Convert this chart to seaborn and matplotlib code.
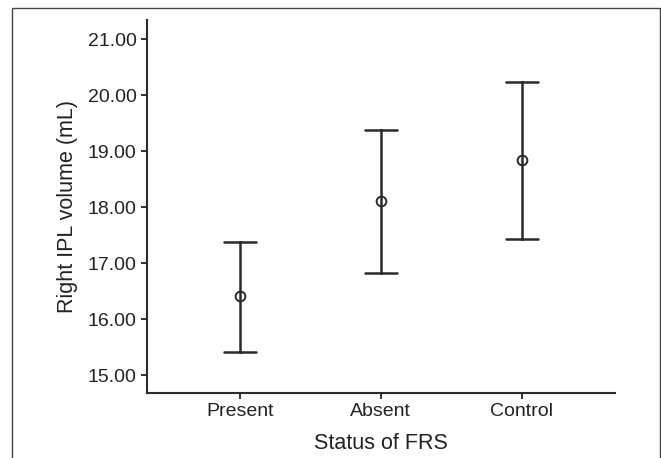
import numpy as np
import pandas as pd
import matplotlib
matplotlib.use('Agg')
import matplotlib.pyplot as plt
import seaborn as sns
from matplotlib.patches import Rectangle

# values (mean and interval ends)
groups = ['Present', 'Absent', 'Control']
means = [16.41, 18.11, 18.84]
lower = [15.42, 16.83, 17.43]
upper = [17.38, 19.37, 20.23]
y_ticks = [15, 16, 17, 18, 19, 20, 21]

rows = []
for g, lo, m, hi in zip(groups, lower, means, upper):
    for v in (lo, m, hi):
        rows.append({'Status of FRS': g, 'volume': v})
df = pd.DataFrame(rows)

sns.set_style('ticks')
plt.rcParams['font.family'] = ['Liberation Sans', 'DejaVu Sans']
ink = '#2b2b2b'

fig = plt.figure(figsize=(6.61, 4.58), dpi=100)
ax = fig.add_axes([0.2224, 0.1419, 0.7076, 0.8144])

sns.pointplot(data=df, x='Status of FRS', y='volume', order=groups,
              estimator=np.median, errorbar=lambda v: (v.min(), v.max()),
              capsize=0.23, color=ink, linestyle='none', marker='o',
              markersize=7, markerfacecolor='none', markeredgewidth=1.4,
              err_kws={'linewidth': 1.8}, ax=ax)

ax.set_xlim(-0.66, 2.66)
ax.set_ylim(14.68, 21.34)
ax.set_yticks(y_ticks)
ax.set_yticklabels([f'{t:.2f}' for t in y_ticks])
ax.set_xlabel('Status of FRS', fontsize=15.5, color='#222222', labelpad=9)
ax.set_ylabel('Right IPL volume (mL)', fontsize=15.5, color='#222222', labelpad=7)
ax.tick_params(labelsize=14, colors='#222222', length=4, width=1.3)
sns.despine(ax=ax)
for s in ['left', 'bottom']:
    ax.spines[s].set_linewidth(1.5)
    ax.spines[s].set_color(ink)

# thin frame around the panel
fig.patches.append(Rectangle((12 / 661, -0.1), 648 / 661, 1.1 - 8 / 458,
                             transform=fig.transFigure, fill=False,
                             edgecolor='#444444', linewidth=1))

fig.savefig('out.png', dpi=100)
